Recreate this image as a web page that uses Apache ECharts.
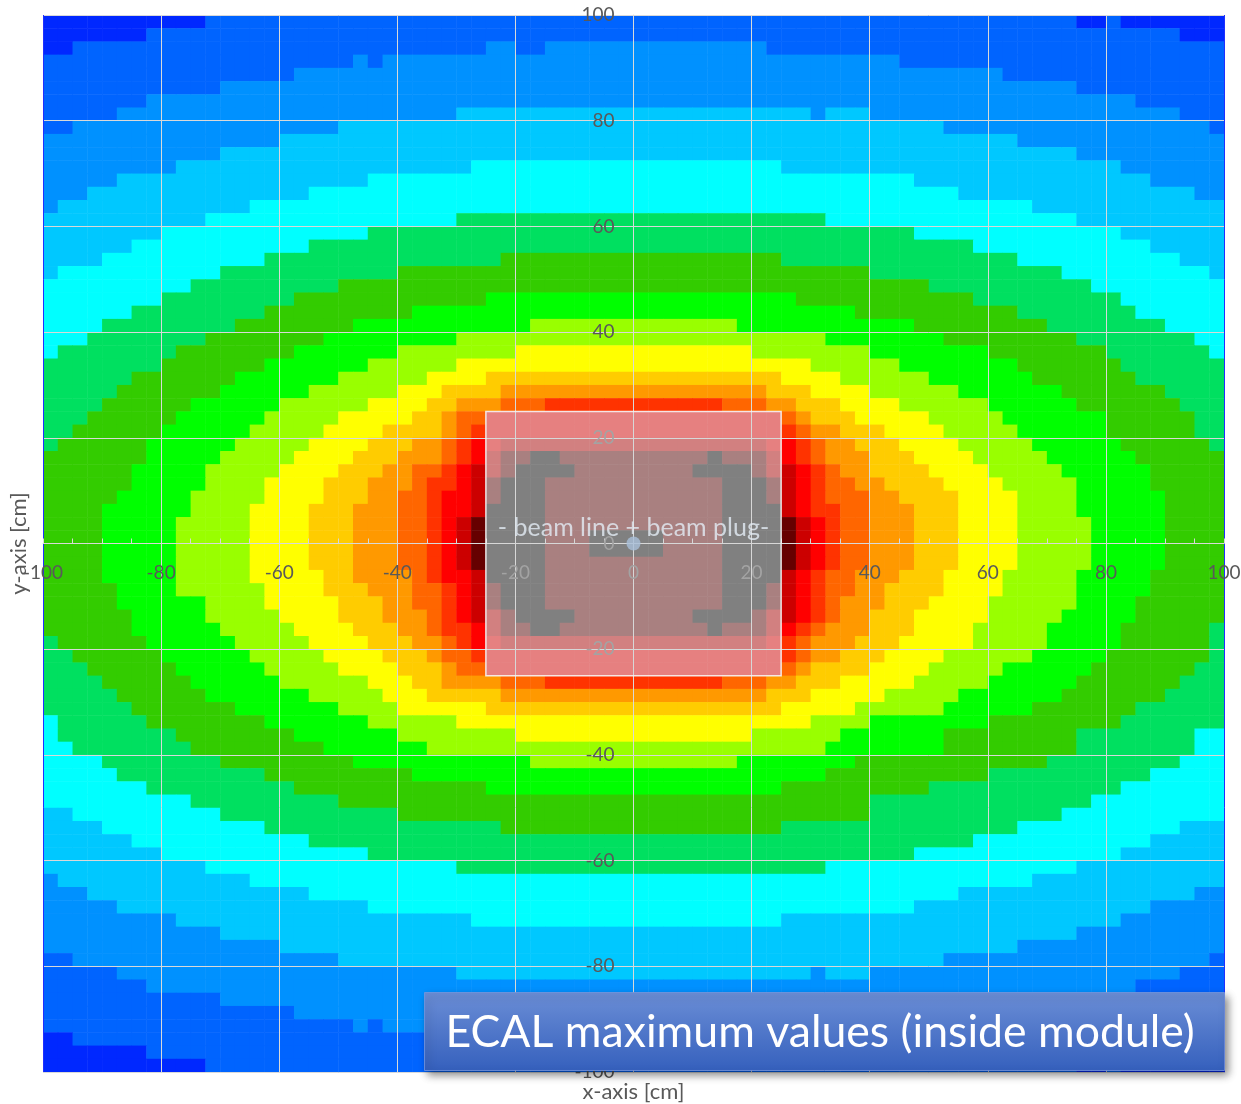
<!DOCTYPE html>
<html>
<head>
<meta charset="utf-8">
<title>ECAL maximum values</title>
<script src="https://cdn.jsdelivr.net/npm/echarts@6/dist/echarts.min.js"></script>
<style>
  html, body { margin: 0; padding: 0; background: #ffffff; }
  #chart { width: 1241px; height: 1104px; }
</style>
</head>
<body>
<div id="chart"></div>
<script>
// Colour levels of the map, lowest to highest ('r' is the hottest core under the plug)
const levelKeys = 'abcdefghijklmnopqr';
const levelColors = [
  '#0028ff', '#0064ff', '#0091ff', '#00c8ff', '#00ffff', '#00e060',
  '#33cc00', '#00ff00', '#99ff00', '#ffff00', '#ffcc00', '#ff9900',
  '#ff6600', '#ff3300', '#ff0000', '#cc0000', '#660000', '#000000'
];

// 2.5 cm cells, 80 columns (x = -100 .. 100) by 80 rows (y = +100 at the top .. -100).
// Each row lists runs as <level><first column>.
const rowRuns = [
  'a0 b11 a70 b72 a73',
  'a0 b7 a77',
  'a0 b2 c30 b32 c34 b49',
  'b0 c21 b22 c23 b58',
  'b0 c17 b65',
  'b0 c12 b70',
  'b0 c7 b74',
  'b0 c5 d28 c52 d53 c56 b77',
  'b0 c2 d20 c61 b79',
  'c0 d16 c66',
  'c0 d12 c70',
  'c0 d9 e29 d50 c73',
  'c0 d5 e22 d59 c75',
  'c0 d3 e18 d62 c78',
  'c0 d1 e14 d67',
  'd0 e11 f28 e53 d70',
  'd0 e8 f22 e59 d73',
  'd0 e6 f18 e63 d75',
  'd0 e4 f15 g31 f50 e66 d77',
  'd0 e1 f12 g24 f56 e69 d79',
  'e0 f10 g20 f60 e71',
  'e0 f8 g17 h30 g51 f63 e73',
  'e0 f6 g15 h25 g55 f66 e74',
  'e0 f4 g13 h21 i33 h47 g59 f68 e76',
  'e0 f3 g11 h19 i28 h53 g61 f70 e78',
  'e0 f1 g9 h17 i24 j32 i48 h56 g64 f72 e79',
  'f0 g8 h15 i22 j28 i52 h58 g66 f73',
  'f0 g6 h13 i20 j26 k30 j50 i54 h60 g67 f74',
  'f0 g5 h12 i18 j24 k27 l31 k49 j52 i56 h62 g69 f76',
  'f0 g4 h10 i16 j22 k26 l28 m31 n34 m46 l49 k51 j54 i58 h64 g70 f77',
  'f0 g3 h9 i15 j20 k25 l27 m28 o30 m50 l51 k52 j55 i60 h65 g72 f78',
  'f0 g2 h8 i14 j19 k23 l27 m28 n29 o30 n50 m51 l52 k54 j57 i61 h66 g72 f78',
  'f0 g1 h7 i13 j18 k22 l25 m27 n28 o29 p31 o49 n51 m52 l53 k55 j58 i62 h67 g73 f79',
  'g0 h7 i12 j17 k21 l24 m27 n28 o29 p30 q31 r33 q35 r45 q46 p49 o50 n51 m52 l53 k56 j59 i63 h68 g74',
  'g0 h6 i11 j16 k20 l23 m25 n27 o28 p29 q31 r32 q36 r44 q48 p49 o51 n52 m53 l54 k56 j60 i64 h69 g75',
  'g0 h6 i11 j15 k19 l22 m25 n26 o28 p29 q30 r31 q34 r46 q49 p50 o51 n52 m53 l55 k57 j61 i65 h70 g75',
  'g0 h5 i10 j15 k19 l22 m24 n26 o27 p29 q30 r31 q34 r46 q49 p50 o51 n52 m53 l56 k58 j62 i66 h70 g76',
  'g0 h4 i10 j14 k18 l21 m24 n26 o27 p29 r30 q34 r46 p50 o51 n52 m54 l56 k59 j62 i66 h70 g76',
  'g0 h4 i9 j14 k18 l21 m24 n26 o27 p28 q29 r30 q34 r46 q50 p51 o52 n53 m54 l56 k59 j62 i66 h71 g76',
  'g0 h4 i9 j14 k18 l21 m24 n26 o27 p28 q29 r30 q34 r37 q42 r46 q50 p51 o52 n53 m54 l56 k59 j62 i66 h71 g76',
  'g0 h4 i9 j14 k18 l21 m24 n26 o27 p28 q29 r30 q34 r37 q42 r46 q50 p51 o52 n53 m54 l56 k59 j62 i66 h71 g76',
  'g0 h4 i9 j14 k18 l21 m24 n26 o27 p28 q29 r30 q34 r46 q50 p51 o52 n53 m54 l56 k59 j62 i66 h71 g76',
  'g0 h4 i9 j14 k19 l21 m25 n26 o27 p29 r30 q34 r46 p50 o51 n52 m53 l55 k58 j61 i65 h70 g75',
  'g0 h5 i9 j15 k19 l22 m25 n27 o28 p29 q30 r31 q34 r46 q49 p50 o51 n52 m53 l55 k57 j61 i65 h70 g75',
  'g0 h5 i11 j15 k20 l23 m25 n27 o28 p29 q30 r31 q34 r46 q49 p50 o51 n52 m53 l54 k57 j60 i64 h70 g74',
  'g0 h6 i11 j16 k20 l23 m26 n27 o28 p29 q31 r32 q36 r44 q48 p49 o51 n52 m53 l54 k56 j59 i64 h69 g74',
  'g0 h6 i12 j17 k21 l24 m26 n27 o29 p30 q31 r33 q35 r45 q46 p49 o50 n51 m52 l53 k56 j59 i63 h68 g73 f79',
  'f0 g1 h7 i13 j18 k22 l25 m27 n28 o29 p31 o49 n50 m51 l52 k55 j58 i63 h68 g73 f79',
  'f0 g2 h8 i14 j19 k23 l26 m27 n29 o30 n50 m51 l52 k54 j57 i61 h67 g72 f79',
  'f0 g3 h9 i15 j20 k24 l27 m28 o30 m50 l51 k52 j56 i60 h65 g71 f78',
  'f0 g4 h10 i16 j22 k25 l27 m31 n34 m46 l49 k51 j54 i59 h64 g70 f77',
  'f0 g5 h11 i18 j23 k26 l31 k49 j52 i57 h62 g69 f76',
  'f0 g6 h13 i20 j24 k30 j50 i55 h61 g67 f74',
  'e0 f1 g7 h15 i22 j28 i52 h56 g64 f73',
  'e0 f1 g9 h17 i24 j32 i48 h54 g61 f70 e78',
  'e0 f2 g10 h19 i26 h53 g61 f70 e78',
  'e0 f4 g12 h21 i33 h47 g55 f68 e77',
  'e0 f5 g15 h25 g53 f64 e75',
  'e0 f7 g17 h30 g50 f60 e73',
  'e0 f10 g20 f56 e71',
  'd0 e2 f12 g24 f56 e69',
  'd0 e4 f15 g31 f50 e66 d77',
  'd0 e6 f18 e63 d75',
  'd0 e8 f22 e59 d73',
  'd0 e11 f28 e53 d70',
  'c0 d1 e14 d67',
  'c0 d3 e18 d62 c78',
  'c0 d5 e22 d59 c75',
  'c0 d9 e29 d50 c73',
  'c0 d12 c70',
  'c0 d16 c66',
  'b0 c2 d20 c61 b79',
  'b0 c5 d28 c52 d53 c56 b77',
  'b0 c7 b74',
  'b0 c12 b70',
  'b0 c17 b65',
  'b0 c21 b22 c23 b58',
  'a0 b2 c30 b32 c34 b49',
  'a0 b7 a77',
  'a0 b11 a70 b72 a73'
];

const nCols = 80;
const cellSize = 2.5;      // cm
const axisMin = -100;
const axisMax = 100;
const axisStep = 20;

// Beam plug outline [x0, y0, x1, y1] in cm and the beam line position
const plugBox = [[-25, 25, 25, -25]];
const beamPoint = [[0, 0]];
const beamLabel = '- beam line + beam plug-';
const titleText = 'ECAL maximum values (inside module)';

// Expand the runs into cells [x centre, y centre, level] in cm
const cells = [];
rowRuns.forEach((runs, r) => {
  const parts = runs.split(' ').map(s => [levelKeys.indexOf(s[0]), Number(s.slice(1))]);
  parts.forEach(([lvl, start], i) => {
    const end = i + 1 < parts.length ? parts[i + 1][1] : nCols;
    for (let c = start; c < end; c++) {
      cells.push([axisMin + cellSize * (c + 0.5), axisMax - cellSize * (r + 0.5), lvl]);
    }
  });
});

const font = 'Lato';
const gridGray = '#d9d9d9';
const edgeBlue = '#1f2fff';
const xSplitColors = [edgeBlue, gridGray, gridGray, gridGray, gridGray, gridGray,
  gridGray, gridGray, gridGray, gridGray, edgeBlue];

// Plot area; both axes cross at the centre of the symmetric -100..100 range
const plot = { left: 43, top: 15, width: 1181, height: 1057 };

const chart = echarts.init(document.getElementById('chart'), null, { renderer: 'canvas' });

chart.setOption({
  animation: false,
  backgroundColor: '#ffffff',
  grid: { left: plot.left, top: plot.top, width: plot.width, height: plot.height, outerBoundsMode: 'none' },
  xAxis: {
    type: 'value', min: axisMin, max: axisMax, interval: axisStep, z: 5,
    position: 'bottom', offset: -plot.height / 2,
    axisLine: { show: true, onZero: false, lineStyle: { color: gridGray, width: 1 } },
    axisTick: { show: true, inside: true, length: 5, lineStyle: { color: gridGray } },
    minorTick: { show: true, splitNumber: 4, length: 5, lineStyle: { color: gridGray } },
    splitLine: { show: true, lineStyle: { color: xSplitColors, width: 1 } },
    axisLabel: { color: '#595959', fontSize: 19, fontFamily: font, margin: 20, showMinLabel: true, showMaxLabel: true },
    name: 'x-axis [cm]', nameLocation: 'middle', nameGap: 537,
    nameTextStyle: { color: '#595959', fontSize: 22, fontFamily: font }
  },
  yAxis: {
    type: 'value', min: axisMin, max: axisMax, interval: axisStep, z: 5,
    position: 'left', offset: -plot.width / 2,
    axisLine: { show: true, onZero: false, lineStyle: { color: gridGray, width: 1 } },
    axisTick: { show: false },
    splitLine: { show: true, lineStyle: { color: gridGray, width: 1 } },
    axisLabel: { color: '#595959', fontSize: 19, fontFamily: font, margin: 19, showMinLabel: true, showMaxLabel: true },
    name: 'y-axis [cm]', nameLocation: 'middle', nameGap: 604, nameRotate: 90,
    nameTextStyle: { color: '#595959', fontSize: 22, fontFamily: font }
  },
  visualMap: {
    type: 'piecewise', show: false, dimension: 2, seriesIndex: 0,
    pieces: levelColors.map((color, i) => ({ value: i, color: color }))
  },
  series: [
    {
      // map cells, each drawn as a rectangle between its cell edges
      type: 'custom', z: 2, silent: true, progressive: 0,
      encode: { x: 0, y: 1 },
      data: cells,
      renderItem: function (params, api) {
        const h = cellSize / 2;
        const p0 = api.coord([api.value(0) - h, api.value(1) + h]);
        const p1 = api.coord([api.value(0) + h, api.value(1) - h]);
        return {
          type: 'rect',
          shape: { x: p0[0], y: p0[1], width: p1[0] - p0[0] + 0.5, height: p1[1] - p0[1] + 0.5 },
          style: { fill: api.visual('color') }
        };
      }
    },
    {
      type: 'custom', z: 10, silent: true,
      encode: { x: [0, 2], y: [1, 3] },
      data: plugBox,
      renderItem: function (params, api) {
        const p0 = api.coord([api.value(0), api.value(1)]);
        const p1 = api.coord([api.value(2), api.value(3)]);
        return {
          type: 'rect',
          shape: { x: p0[0], y: p0[1], width: p1[0] - p0[0], height: p1[1] - p0[1] },
          style: { fill: 'rgba(213,213,213,0.6)', stroke: 'rgba(245,245,245,0.9)', lineWidth: 1.5 }
        };
      }
    },
    {
      type: 'scatter', z: 11, silent: true,
      data: beamPoint, symbolSize: 14,
      itemStyle: { color: '#a9bfd9' },
      label: {
        show: true, position: 'inside', offset: [0, -16],
        formatter: beamLabel, color: '#e4ecf5', fontSize: 25, fontFamily: font
      }
    }
  ],
  graphic: [
    {
      type: 'group', left: 424, top: 992, z: 100,
      children: [
        {
          type: 'rect', z: 100, shape: { x: 0, y: 0, width: 800, height: 78 },
          style: {
            fill: {
              type: 'linear', x: 0, y: 0, x2: 0, y2: 1,
              colorStops: [{ offset: 0, color: '#6b8ed6' }, { offset: 1, color: '#3560bd' }]
            },
            stroke: 'rgba(120,150,220,0.8)', lineWidth: 1,
            shadowBlur: 8, shadowOffsetX: 3, shadowOffsetY: 4, shadowColor: 'rgba(0,0,0,0.45)'
          }
        },
        {
          type: 'text', z: 101, x: 21, y: 40,
          style: { text: titleText, fill: '#ffffff', font: '44.6px Lato', verticalAlign: 'middle' }
        }
      ]
    }
  ]
});
</script>
</body>
</html>
